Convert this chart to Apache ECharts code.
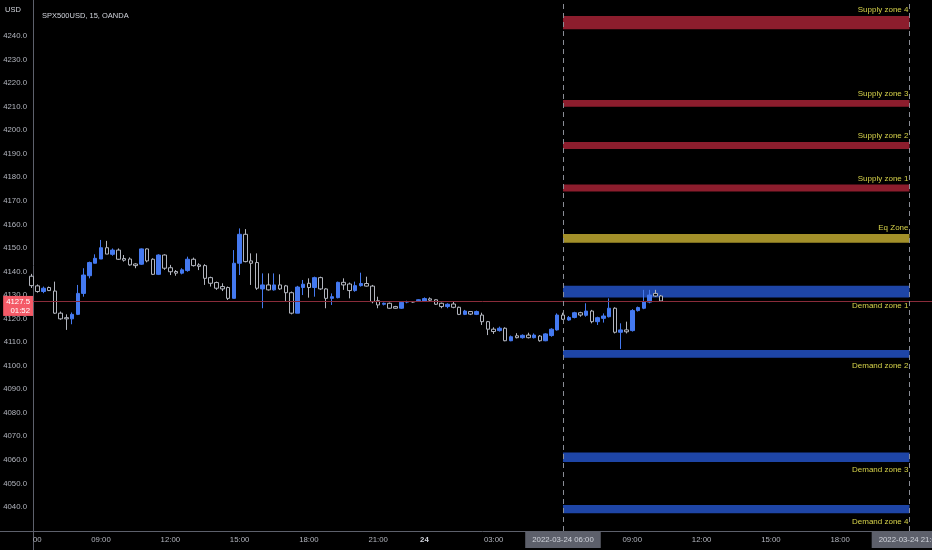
<!DOCTYPE html>
<html><head><meta charset="utf-8">
<script src="https://cdn.jsdelivr.net/npm/echarts@6/dist/echarts.min.js"></script>
<style>html,body{margin:0;padding:0;background:#000;}#c{width:932px;height:550px;}</style>
</head><body><div id="c"></div><script>
// ---- data (15-minute candles, index 0 = 2022-03-23 06:00) ----
const opens  = [4138,4133.9,4131.5,4133.2,4131.7,4122.3,4120.4,4119.9,4121.8,4130.7,4138.2,4143.5,4145.3,4150.1,4147.3,4149.1,4145.5,4145.3,4143.2,4143.1,4149.6,4145.2,4138.8,4147,4141.6,4140,4139.3,4140.4,4145.2,4142.8,4142.5,4137.4,4135.3,4133.6,4133.2,4128.6,4143.5,4155.8,4144.5,4143.8,4132.6,4134.3,4132.2,4134.3,4133.9,4131,4122.3,4133.2,4135,4133.2,4137.4,4132.6,4128.6,4128.9,4135.4,4134.7,4131.9,4134,4134.9,4133.8,4127.6,4126.1,4126.5,4125.1,4124.4,4127,4127.1,4127.6,4127.5,4128.4,4128,4126.5,4125.1,4126.2,4124.8,4121.8,4123,4121.8,4121.5,4118.7,4115.5,4114.9,4115.9,4110.6,4112.7,4111.9,4113,4111.9,4112.6,4110.6,4112.8,4115.2,4121.5,4119.4,4120.5,4122.5,4121.4,4123.2,4118.7,4120.1,4120.8,4124.4,4114.2,4115.2,4114.9,4123.4,4124.4,4127,4130.7,4129.6];
const closes = [4134,4131.5,4132.9,4131.9,4122.3,4119.9,4119.9,4121.8,4130.7,4138.5,4143.8,4145.6,4150.1,4147.4,4149.1,4145.2,4144.8,4142.8,4142.5,4149.6,4144.5,4138.8,4147,4141.4,4139.9,4139.3,4140.7,4145.2,4142.5,4142.2,4137.1,4135,4132.9,4132.6,4128.6,4143.5,4155.8,4144.2,4143.5,4132.9,4134.3,4132.2,4134.3,4132.6,4131,4122.3,4133.4,4134.6,4133.2,4137.4,4132.6,4128.6,4129.3,4135.4,4134.3,4131.9,4134,4134.9,4133.8,4127.2,4125.8,4126.5,4124.4,4124.4,4126.9,4127.2,4127.1,4128,4128.5,4127.8,4126.1,4125.1,4126.1,4124.8,4121.8,4123.2,4121.9,4123,4118.7,4115.5,4114.5,4115.9,4110.6,4112.3,4111.9,4112.9,4111.9,4113,4110.6,4113.5,4115.5,4121.5,4119.7,4120.5,4122.5,4121.5,4123.2,4118.7,4120.4,4121.1,4124.4,4114.2,4115.2,4114.4,4123.4,4124.7,4127.2,4130,4129.6,4127.5];
const highs  = [4139,4134.5,4133.6,4133.6,4135.7,4123,4121.8,4122.6,4134.3,4141.4,4144.2,4147.3,4153.4,4153,4149.8,4149.8,4147,4146,4143.5,4149.8,4149.8,4145.6,4147.3,4147.3,4142.8,4140.6,4141.4,4146.3,4145.9,4143.5,4143.1,4137.8,4135.7,4135,4133.6,4149.1,4158.3,4158,4147.7,4147.7,4139.2,4139.2,4139.2,4138.8,4134.3,4131.5,4133.9,4136.4,4137.1,4137.8,4137.8,4132.9,4130.7,4135.7,4137.1,4135.3,4135.7,4139.5,4137.8,4134.3,4129.3,4126.8,4126.8,4125.4,4127.2,4127.6,4127.4,4128.2,4129,4129,4128.2,4126.8,4126.5,4127.2,4125.1,4123.7,4123.2,4123.4,4122.5,4119,4116.3,4116.6,4116.3,4112.8,4113.8,4113.3,4114,4113.7,4113,4113.8,4115.9,4122.2,4122.5,4121.1,4122.9,4122.9,4126.5,4123.7,4120.8,4122.2,4128.6,4124.8,4118,4118.7,4124,4125.1,4132.2,4132.2,4132.2,4130];
const lows   = [4133,4131,4130.8,4131.7,4122,4119.5,4115.2,4117.6,4121.5,4129.3,4137.1,4143.5,4145.3,4147.4,4146.7,4144.9,4144.2,4142.5,4141.4,4142.8,4143.9,4138.5,4138.5,4140.7,4138.5,4138.2,4138.8,4139.9,4142.1,4140.6,4134.3,4133.6,4132.2,4131.7,4127.9,4128.6,4138.5,4143.9,4134.3,4132.2,4124.4,4131.9,4131.9,4132.2,4127.2,4121.8,4122.3,4130,4128.9,4129.3,4132.2,4124.4,4125.8,4128.6,4132.2,4128.6,4131.4,4133.6,4133.6,4126.5,4124.4,4125.6,4124.2,4124.2,4124.1,4126.5,4126.8,4127.2,4127.2,4127.2,4125.8,4124.4,4124.4,4124.4,4121.5,4121.5,4121.5,4121.5,4117.3,4113,4113.5,4114.5,4110.4,4110.4,4111.6,4111.5,4111.6,4111.6,4110.2,4110.4,4112.3,4114.9,4119.4,4119.1,4120.1,4120.8,4120.8,4118,4117.3,4118.3,4120.5,4113.7,4107.1,4113.7,4114.5,4123,4124,4126.5,4129.3,4127.5];

const yTicks = [4040,4050,4060,4070,4080,4090,4100,4110,4120,4130,4140,4150,4160,4170,4180,4190,4200,4210,4220,4230,4240];
const xTickIdx    = [12,24,36,48,60,68,80,92,104,116,128,140,152];
const xTickLabels = ['09:00','12:00','15:00','18:00','21:00','24','03:00','2022-03-24 06:00','09:00','12:00','15:00','18:00','2022-03-24 21:00'];
const xHighlight  = [92,152];
const xDayTicks   = [68];

const zoneNames = ['Supply zone 4','Supply zone 3','Supply zone 2','Supply zone 1','Eq Zone','Demand zone 1','Demand zone 2','Demand zone 3','Demand zone 4'];
const zoneKinds = ['supply','supply','supply','supply','eq','demand','demand','demand','demand'];
const zoneLows  = [4242.9,4210.0,4192.0,4174.0,4152.2,4129.0,4103.4,4059.1,4037.3];
const zoneHighs = [4248.5,4212.8,4195.0,4177.0,4155.9,4134.0,4106.7,4063.1,4040.8];
const zoneStart = 92, zoneEnd = 152;

const lastPrice = 4127.5, countdown = '01:52';
const title = 'SPX500USD, 15, OANDA';

// ---- chart ----
const FONT = "'Liberation Sans',Arial,sans-serif";
const zoneColor = {supply:'#8c1d2d', eq:'#a3902a', demand:'#1e45a6'};
const axisCol = '#5d606b', txtCol = '#b2b5be';
const FS = 7.8;

const candleData = opens.map((o,i)=>[i,o,closes[i],lows[i],highs[i]]);
const labelMap = {}; xTickIdx.forEach((v,i)=>labelMap[v]=xTickLabels[i]);

const areas = zoneNames.map((n,i)=>{
  const sup = zoneKinds[i] !== 'demand';
  return [{
    name:n, xAxis:zoneStart, yAxis:zoneHighs[i],
    itemStyle:{color:zoneColor[zoneKinds[i]], opacity:1},
    label:{show:true, formatter:n, color:'#d6d24a', fontFamily:FONT, fontSize:8,
      position: sup ? ['100%',0] : ['100%','100%'], align:'right',
      verticalAlign: sup ? 'bottom' : 'top', offset: sup ? [-1,-2] : [-1,4]}
  },{xAxis:zoneEnd, yAxis:zoneLows[i]}];
});

const chart = echarts.init(document.getElementById('c'), null, {renderer:'canvas'});
chart.setOption({
  backgroundColor:'#000',
  animation:false,
  title:{text:title, left:37, top:7, textStyle:{color:'#d1d4dc', fontSize:7.5, fontWeight:'normal', fontFamily:FONT}},
  grid:{left:33, right:0, top:0, bottom:19, outerBoundsMode:'none'},
  xAxis:{type:'value', min:0.225, max:155.9,
    axisLine:{show:true, lineStyle:{color:axisCol}}, axisTick:{show:false}, splitLine:{show:false},
    axisLabel:{customValues:xTickIdx, margin:1, hideOverlap:false,
      formatter:v=>{const t=labelMap[v]; if(t==null) return '';
        if(xHighlight.includes(v)) return '{hl|'+t+'}';
        if(xDayTicks.includes(v)) return '{d|'+t+'}';
        return '{n|'+t+'}';},
      rich:{
        n:{color:txtCol, fontSize:FS, fontFamily:FONT, padding:[4,0,3,0]},
        d:{color:'#d1d4dc', fontSize:FS, fontWeight:'bold', fontFamily:FONT, padding:[4,0,3,0]},
        hl:{color:'#d1d4dc', fontSize:FS, fontFamily:FONT, backgroundColor:'#5d606b', padding:[4,7,4,7]}
      }}
  },
  yAxis:{type:'value', position:'left', min:4029.8, max:4255.3, scale:true,
    axisLine:{show:true, lineStyle:{color:axisCol}}, axisTick:{show:false}, splitLine:{show:false},
    axisLabel:{customValues:yTicks, formatter:v=>v.toFixed(1), color:txtCol, fontSize:FS, fontFamily:FONT, margin:6}
  },
  graphic:[
    {type:'text', x:33, y:540, z:10, style:{text:'00', fill:txtCol, fontSize:FS, fontFamily:FONT, verticalAlign:'middle'}},
    {type:'text', x:5, y:10, z:10, style:{text:'USD', fill:'#d1d4dc', fontSize:7.5, fontFamily:FONT, verticalAlign:'middle'}},
    {type:'line', shape:{x1:0,y1:531.5,x2:33,y2:531.5}, style:{stroke:axisCol, lineWidth:1}},
    {type:'line', shape:{x1:33.5,y1:531,x2:33.5,y2:550}, style:{stroke:axisCol, lineWidth:1}}
  ],
  series:[{
    type:'candlestick', data:candleData, encode:{x:0, y:[1,2,3,4]}, barWidth:4, clip:true,
    itemStyle:{color:'#4479f0', color0:'#000', borderColor:'#4479f0', borderColor0:'#b2b5be', borderWidth:1},
    markArea:{silent:true, data:areas},
    markLine:{silent:true, symbol:['none','none'], animation:false,
      data:[
        {yAxis:lastPrice, lineStyle:{color:'#8a2c3a', type:'solid', width:1, opacity:1},
          label:{show:true, position:'start', distance:0, offset:[0,5], formatter:lastPrice.toFixed(1)+'\n'+countdown,
            color:'#fff', backgroundColor:'#f45a67', fontSize:FS, lineHeight:9, fontFamily:FONT, padding:[1,3,1,3]}},
        {xAxis:zoneStart, lineStyle:{color:'#8a8d96', type:[5,4], width:1, opacity:1}, label:{show:false}},
        {xAxis:zoneEnd, lineStyle:{color:'#8a8d96', type:[5,4], width:1, opacity:1}, label:{show:false}}
      ]}
  }]
});
</script></body></html>
